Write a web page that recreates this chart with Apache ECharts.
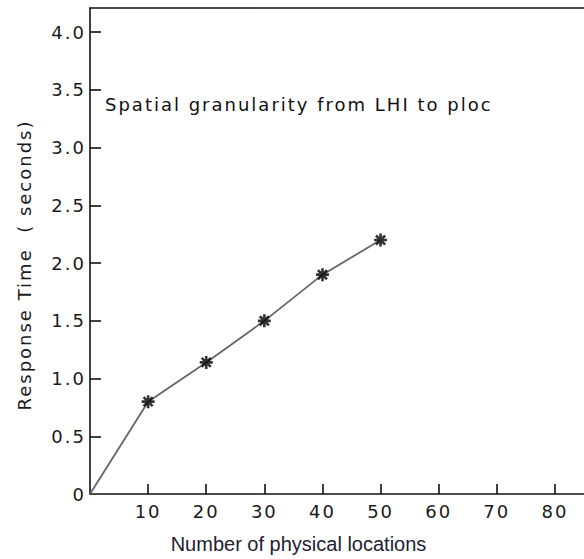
<!DOCTYPE html>
<html><head><meta charset="utf-8">
<script src="https://cdn.jsdelivr.net/npm/echarts@6/dist/echarts.min.js"></script>
<style>
html,body{margin:0;padding:0;background:#fff}
#c{width:584px;height:559px}
#c svg text{letter-spacing:2px;white-space:pre}
#c svg text[style*="Liberation"]{letter-spacing:0}
</style></head><body><div id="c"></div>
<script>
const xValues = [0, 10, 20, 30, 40, 50];
const yValues = [0, 0.80, 1.14, 1.50, 1.90, 2.20];
const xTicks = [10, 20, 30, 40, 50, 60, 70, 80];
const xTickLabels = ['10', '20', '30', '40', '50', '60', '70', '80'];
const yTicks = [0, 0.5, 1, 1.5, 2, 2.5, 3, 3.5, 4];
const yTickLabels = ['0', '0.5', '1.0', '1.5', '2.0', '2.5', '3.0', '3.5', '4.0'];
const annotation = 'Spatial granularity from LHI to ploc';
const xName = 'Number of physical locations';
const yName = 'Response Time  ( seconds)';

const chart = echarts.init(document.getElementById('c'), null, {renderer: 'svg'});
const tickFont = {fontFamily: 'DejaVu Sans', fontSize: 18, color: '#1a1a1a'};
const axisLine = {show: true, lineStyle: {color: '#111', width: 1.6}};
chart.setOption({
  animation: false,
  backgroundColor: '#fff',
  title: {
    text: annotation, left: 105, top: 95, padding: 0,
    textStyle: {fontFamily: 'DejaVu Sans', fontSize: 18, fontWeight: 'normal', color: '#111'}
  },
  grid: {left: 90, right: 0, top: 8, bottom: 65, containLabel: false, outerBoundsMode: 'none'},
  xAxis: [{
    type: 'value', min: 0, max: 85, position: 'bottom',
    name: xName, nameLocation: 'middle', nameGap: 40,
    nameTextStyle: {fontFamily: 'Liberation Sans', fontSize: 20, color: '#222230', padding: [0, 77, 0, 0]},
    axisLine: axisLine,
    axisTick: {show: true, inside: true, length: 10, customValues: xTicks, lineStyle: {color: '#111', width: 1.6}},
    axisLabel: Object.assign({margin: 8, customValues: xTicks,
      formatter: v => xTickLabels[xTicks.indexOf(v)]}, tickFont),
    splitLine: {show: false}
  }, {
    type: 'value', min: 0, max: 85, position: 'top',
    axisLine: axisLine, axisTick: {show: false}, axisLabel: {show: false}, splitLine: {show: false}
  }],
  yAxis: {
    type: 'value', min: 0, max: 4.21,
    name: yName, nameLocation: 'middle', nameGap: 57,
    nameTextStyle: {fontFamily: 'DejaVu Sans', fontSize: 18, color: '#1a1a1a', padding: [0, 28, 0, 0]},
    axisLine: axisLine,
    axisTick: {show: true, inside: true, length: 11, customValues: yTicks.slice(1), lineStyle: {color: '#111', width: 1.6}},
    axisLabel: Object.assign({margin: 4, customValues: yTicks,
      formatter: v => yTickLabels[yTicks.indexOf(v)]}, tickFont),
    splitLine: {show: false}
  },
  series: [{
    type: 'line',
    data: xValues.map((x, i) => [x, yValues[i]]),
    showSymbol: false,
    lineStyle: {color: '#666', width: 1.8}
  }, {
    type: 'scatter',
    data: xValues.slice(1).map((x, i) => [x, yValues[i + 1]]),
    symbol: 'path://M0,-6L0,6M-6,0L6,0M-4.2,-4.2L4.2,4.2M-4.2,4.2L4.2,-4.2',
    symbolSize: 13,
    itemStyle: {color: '#000', borderColor: '#000', borderWidth: 2.6},
    z: 3
  }]
});
</script></body></html>
